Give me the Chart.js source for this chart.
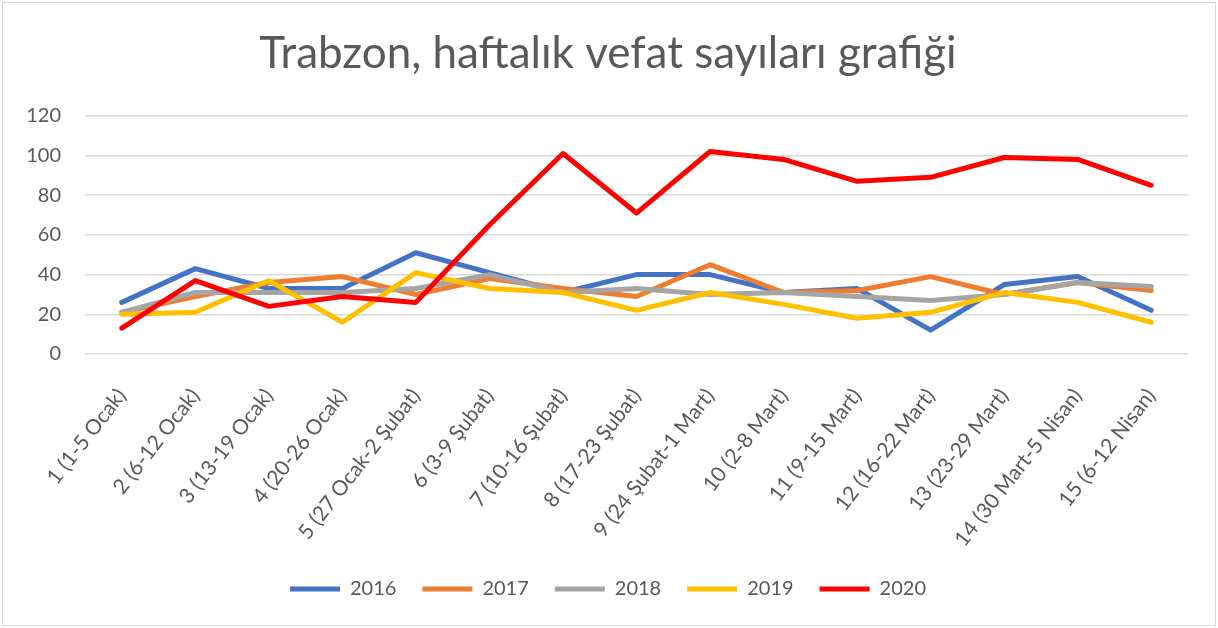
<!DOCTYPE html>
<html>
<head>
<meta charset="utf-8">
<script src="https://cdn.jsdelivr.net/npm/chart.js@4/dist/chart.umd.min.js"></script>
<style>
    html, body { margin: 0; padding: 0; background: #fff; }
    #kutu { position: relative; width: 1218px; height: 628px; }
    #cerceve { position: absolute; left: 2px; top: 2px; right: 2px; bottom: 2px; border: 1px solid #d9d9d9; pointer-events: none; }
</style>
</head>
<body>
<div id="kutu">
    <canvas id="vefatChart" width="1218" height="628"></canvas>
    <div id="cerceve"></div>
</div>
<script>
const haftalar = ['1 (1-5 Ocak)', '2 (6-12 Ocak)', '3 (13-19 Ocak)', '4 (20-26 Ocak)', '5 (27 Ocak-2 Şubat)',
    '6 (3-9 Şubat)', '7 (10-16 Şubat)', '8 (17-23 Şubat)', '9 (24 Şubat-1 Mart)', '10 (2-8 Mart)',
    '11 (9-15 Mart)', '12 (16-22 Mart)', '13 (23-29 Mart)', '14 (30 Mart-5 Nisan)', '15 (6-12 Nisan)'];
const yillar = ['2016', '2017', '2018', '2019', '2020'];
const vefat2016 = [26, 43, 33, 33, 51, 41, 31, 40, 40, 31, 33, 12, 35, 39, 22];
const vefat2017 = [21, 29, 36, 39, 30, 38, 33, 29, 45, 31, 32, 39, 30, 36, 32];
const vefat2018 = [21, 31, 31, 31, 33, 40, 31, 33, 30, 31, 29, 27, 30, 36, 34];
const vefat2019 = [20, 21, 37, 16, 41, 33, 31, 22, 31, 25, 18, 21, 31, 26, 16];
const vefat2020 = [13, 37, 24, 29, 26, 65, 101, 71, 102, 98, 87, 89, 99, 98, 85];
const yTikler = [0, 20, 40, 60, 80, 100, 120];

const seriler = [vefat2016, vefat2017, vefat2018, vefat2019, vefat2020];
const renkler = ['#4472c4', '#ed7d31', '#a5a5a5', '#ffc000', '#ff0000'];
const yazi = 'Lato, "Open Sans", sans-serif';

new Chart(document.getElementById('vefatChart'), {
    type: 'line',
    data: {
        labels: haftalar,
        datasets: seriler.map((s, i) => ({
            label: yillar[i], data: s,
            borderColor: renkler[i], backgroundColor: renkler[i],
            borderWidth: 5, pointRadius: 0, tension: 0,
            borderJoinStyle: 'round', borderCapStyle: 'round',
            order: seriler.length - i
        }))
    },
    options: {
        responsive: false, animation: false,
        layout: { padding: { left: 28, right: 30, top: 0, bottom: 19 } },
        plugins: {
            title: {
                display: true, text: 'Trabzon, haftalık vefat sayıları grafiği',
                color: '#595959', font: { family: yazi, size: 44, weight: 'normal' },
                padding: { top: 27, bottom: 36 }
            },
            legend: {
                position: 'bottom',
                labels: {
                    color: '#595959', font: { family: yazi, size: 20 },
                    usePointStyle: true, pointStyle: 'line', pointStyleWidth: 50, boxHeight: 5,
                    padding: 26, sort: (a, b) => a.datasetIndex - b.datasetIndex
                }
            },
            tooltip: { enabled: false }
        },
        scales: {
            x: {
                offset: true,
                grid: { display: false },
                border: { display: false },
                ticks: { color: '#595959', font: { family: yazi, size: 21 }, minRotation: 52, maxRotation: 52, autoSkip: false, padding: 22 },
                afterFit: (scale) => { scale.height = 199; }
            },
            y: {
                min: 0, max: 120,
                afterBuildTicks: (scale) => { scale.ticks = yTikler.map(v => ({ value: v })); },
                grid: { color: '#d9d9d9', lineWidth: 1.5, drawTicks: false },
                border: { display: false },
                ticks: { color: '#595959', font: { family: yazi, size: 20 }, padding: 24 },
                afterFit: (scale) => { scale.width = 57; }
            }
        }
    }
});
</script>
</body>
</html>
